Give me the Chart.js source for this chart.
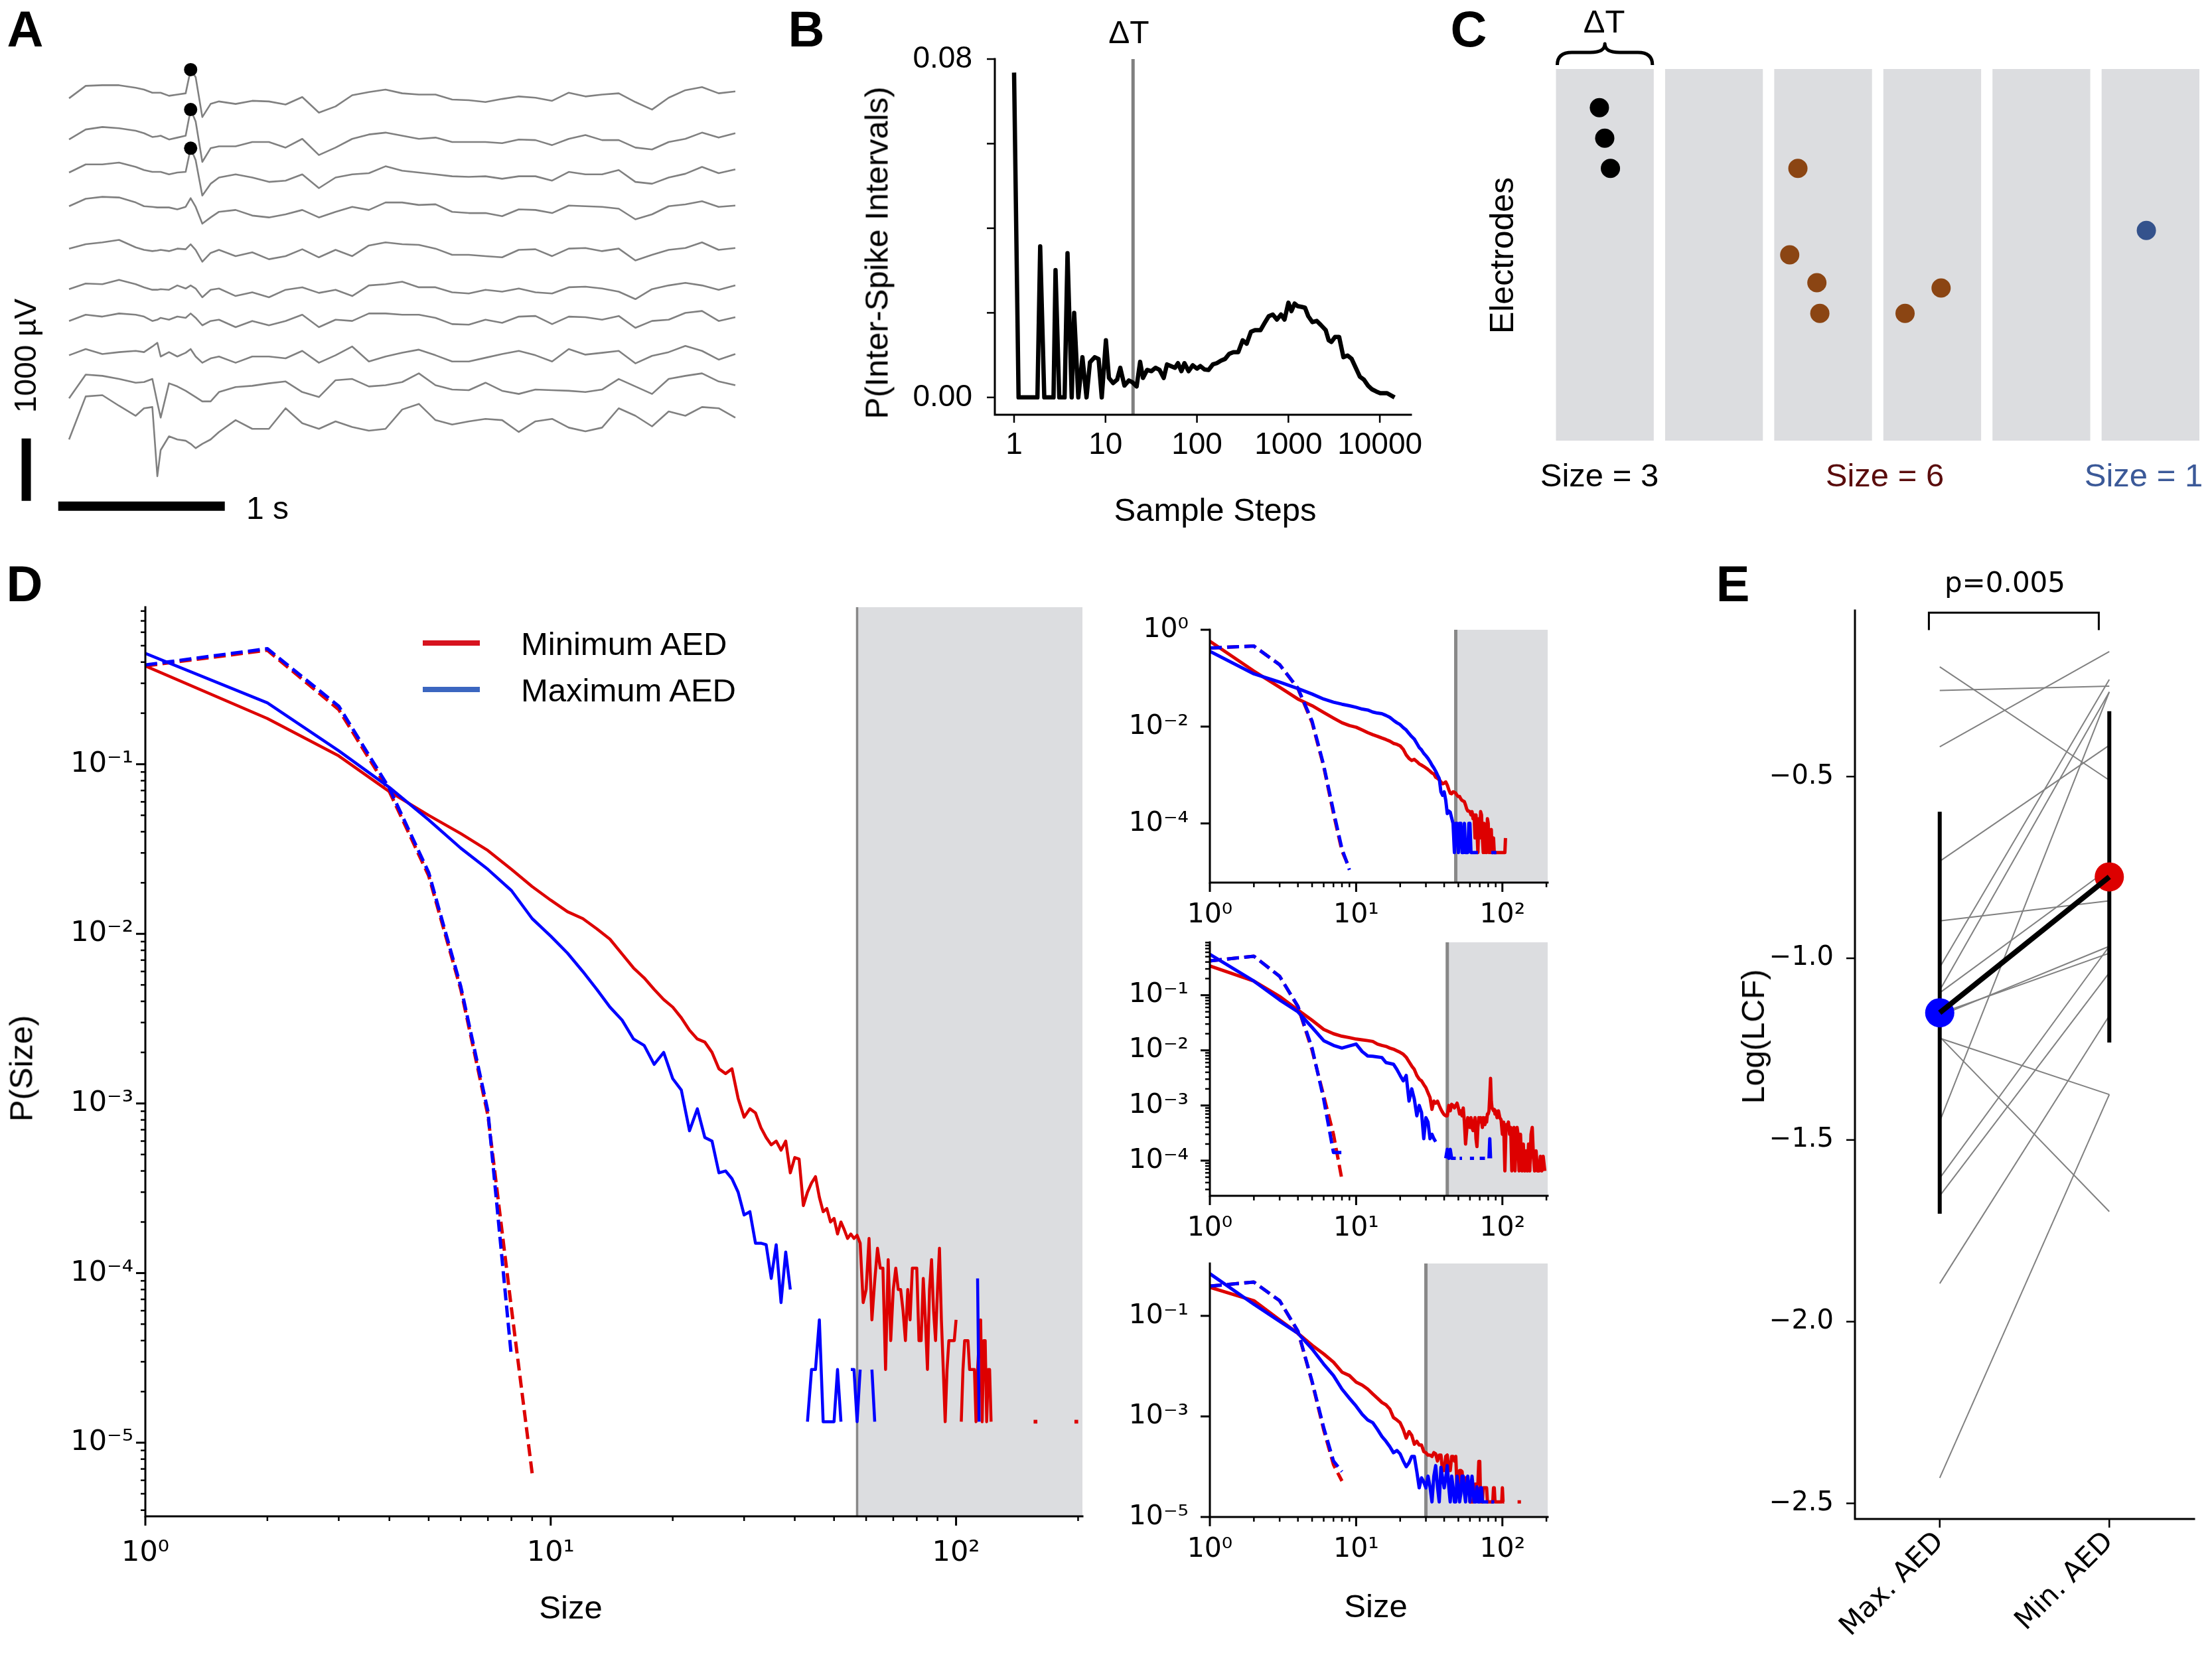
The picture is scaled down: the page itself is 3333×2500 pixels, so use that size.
<!DOCTYPE html>
<html>
<head>
<meta charset="utf-8">
<script src="https://cdn.jsdelivr.net/npm/chart.js@4.4.1/dist/chart.umd.min.js"></script>
<style>
html,body{margin:0;padding:0;background:#fff;}
#page{position:relative;width:3333px;height:2500px;overflow:hidden;background:#fff;}
canvas{position:absolute;}
.t{position:absolute;white-space:nowrap;line-height:1;font-family:"Liberation Sans",Arial,Helvetica,sans-serif;color:#000;}
</style>
</head>
<body>
<div id="page"></div>
<script>
// ======================= DATA =======================
// ---- Panel A : EEG traces (time in s, deviation in µV from each channel's offset)
const A_times = [0,0.1,0.2,0.3,0.4,0.45,0.5,0.53,0.55,0.6,0.65,0.7,0.73,0.76,0.8,0.85,0.9,1.0,1.1,1.2,1.3,1.4,1.5,1.6,1.7,1.8,1.9,2.0,2.1,2.2,2.3,2.4,2.5,2.6,2.7,2.8,2.9,3.0,3.1,3.2,3.3,3.4,3.5,3.6,3.7,3.8,3.9,4.0];
const A_offsets = [6670,6010,5480,4940,4260,3610,3100,2550,1860,1200];
const A_ch1 = [0,200,210,210,170,140,90,90,90,40,60,80,460,340,-300,-90,-50,-90,-40,-50,-100,20,-230,-130,50,100,140,80,60,60,-20,-30,-60,-10,30,10,-40,90,30,60,80,-60,-180,10,130,180,80,110];
const A_ch2 = [0,160,200,180,140,100,40,50,60,0,30,60,480,290,-360,-140,-110,-110,-40,-40,-130,10,-250,-130,10,80,110,60,10,30,-40,-40,-40,-60,0,-10,-90,10,70,-10,-10,-130,-160,-40,10,110,30,100];
const A_ch3 = [0,130,130,160,90,40,10,10,10,-30,0,10,390,200,-370,-180,-80,-30,-80,-150,-130,-30,-250,-80,-30,-10,100,30,0,-30,-60,-70,-60,-100,-60,-60,-130,10,-30,-30,40,-150,-180,-80,-20,90,-10,50];
const A_ch4 = [0,120,150,140,60,0,-10,-20,-20,-20,-50,-10,130,-10,-280,-180,-90,-60,-150,-180,-130,-60,-180,-90,-10,-60,60,60,20,30,-90,-110,-110,-160,-50,-60,-110,10,0,-10,-40,-210,-130,0,30,80,-10,10];
const A_ch5 = [0,70,100,140,20,-20,-40,-30,-20,-40,0,-10,70,-20,-210,-70,-20,-120,-60,-170,-120,-10,-140,-20,-120,50,100,70,60,0,-100,-100,-120,-140,-20,-10,-120,0,10,-40,0,-190,-100,-20,10,100,-20,10];
const A_ch6 = [0,90,80,150,80,30,-10,-10,0,-10,60,10,60,10,-130,-10,10,-110,-50,-130,-10,30,-60,-10,-110,60,80,120,30,30,-50,-70,-10,-40,10,-50,-70,30,40,10,-40,-160,0,60,100,60,-10,60];
const A_ch7 = [0,100,70,120,100,70,0,20,50,20,70,50,120,50,-70,0,20,-100,0,-70,0,100,-100,20,0,120,120,100,100,50,-50,-60,20,-30,70,80,-50,70,60,20,80,-110,0,20,130,160,0,60];
const A_ch8 = [0,100,20,50,70,50,140,200,-20,50,-20,40,100,-20,-120,-50,-20,-120,-20,-20,-50,70,-120,0,140,-100,-20,40,90,0,-100,-100,-40,20,70,0,-100,100,10,40,70,-130,-10,50,150,70,-70,20];
const A_ch9 = [0,380,360,310,250,260,310,-70,-310,240,190,120,70,20,-50,-50,100,180,200,240,270,100,20,290,310,190,210,260,400,210,140,130,250,120,70,140,130,120,100,140,310,190,70,310,360,400,270,210];
const A_ch10 = [0,690,710,540,380,500,520,-590,-170,50,0,-20,-70,-140,-70,0,120,310,170,170,500,260,170,290,200,140,170,480,570,310,240,290,330,310,120,290,330,190,130,190,500,380,210,450,380,520,500,350];
const A_spikeTime = 0.73;
const A_spikeChannels = [0,1,2];
const A_barSeconds = 1;
const A_barMicroV = 1000;

// ---- Panel B : inter-spike interval distribution
const B_steps = [1,1.12,1.8,1.93,2.14,2.7,2.84,3.12,3.57,3.84,4.27,4.54,5.04,5.59,6.2,6.76,7.6,8.4,9.1,10.1,10.9,12.1,13.4,14.5,16.1,18,19.6,21.9,23.9,25.7,28.5,31.7,35.2,39,43.3,47,52,57.5,62,67.6,73,81,90,100,109,121,134,149,165,183,203,225,250,283,316,350,389,431,495,550,610,675,750,830,907,1000,1080,1170,1260,1400,1520,1650,1830,2040,2270,2560,2760,2950,3240,3590,4000,4440,4920,5460,6050,6700,7430,8230,9130,10100,12000,14500];
const B_prob = [0.0768,0,0,0.0357,0,0,0.0301,0,0,0.0341,0,0.020,0,0.0095,0,0.0083,0.0095,0.0091,0,0.0135,0.0046,0.0034,0.0042,0.007,0.0028,0.004,0.0036,0.0026,0.0084,0.0046,0.0065,0.0062,0.007,0.0065,0.0046,0.0078,0.0074,0.007,0.0081,0.0062,0.0081,0.0062,0.0076,0.0068,0.0074,0.0066,0.0065,0.0078,0.0081,0.0087,0.0091,0.0103,0.0107,0.0107,0.0135,0.0127,0.0155,0.0159,0.0159,0.0176,0.0192,0.0196,0.0184,0.0196,0.0184,0.0224,0.0204,0.0222,0.0216,0.0214,0.0212,0.0192,0.0178,0.0181,0.0171,0.0159,0.0135,0.0131,0.0143,0.0143,0.0095,0.0099,0.0091,0.007,0.0049,0.0042,0.0028,0.0019,0.0014,0.001,0.001,0.0];
const B_deltaT = 20;
const B_xTicks = [1,10,100,1000,10000];
const B_yTicks = [0,0.02,0.04,0.06,0.08];
const B_yTickLabels = ['0.00','','','','0.08'];

// ---- Panel C : avalanche illustration (bin, electrode)
const C_nBins = 6;
const C_binFill = 0.896;
const C_black = [[0.398,1.25],[0.447,2.235],[0.499,3.21]];
const C_brown = [[2.217,3.21],[2.142,6.0],[2.391,6.9],[2.418,7.89],[3.199,7.89],[3.529,7.07]];
const C_blue = [[5.41,5.21]];
const C_sizes = [3,6,1];

// ---- Panel D : avalanche size distributions (value index = size-1)
const D_minSolid = [0.38,0.186,0.112,0.069,0.05,0.039,0.031,0.024,0.019,0.0158,
 0.0135,0.0123,0.0107,0.0093,0.0076,0.0063,0.0055,0.0047,0.0041,0.0037,
 0.0032,0.0027,0.0024,0.0023,0.002,0.0016,0.0015,0.0016,0.00107,0.00083,
 0.00093,0.00088,0.00072,0.00063,0.00057,0.0006,0.00053,0.0006,0.00039,0.00048,
 0.00047,0.00025,0.0003,0.00034,0.00037,0.00028,0.00023,0.00024,0.0002,0.00021,
 0.00017,0.0002,0.00018,0.00016,0.00017,0.00016,0.000167,0.00015,0.000067,0.00008,
 0.00016,0.000053,0.00009,0.00014,0.000107,0.000107,0.000027,0.00012,0.00004,0.00008,
 0.000107,0.00008,0.00008,0.00006,0.00004,0.00008,0.000053,0.000107,0.000107,0.000107,
 0.00004,0.00004,0.000093,0.000053,0.000027,0.00008,0.00012,0.00006,0.00004,0.00008,
 0.00014,0.000053,0.000027,0.0000133,0.000027,0.00004,0.00004,0.00004,0.00004,0.000053,
 null,null,0.0000133,0.000027,0.00004,0.00004,0.00004,0.000027,0.000027,0.000027,
 0.000027,0.0000133,0.000027,0.00004,0.000053,0.0000133,0.00004,0.00004,0.0000133,0.000027,
 0.000027,0.0000133];
const D_minSolidTail = [[140,null],[157,0.0000133],[175,null],[198,0.0000133]];
const D_maxSolid = [0.45,0.23,0.12,0.073,0.047,0.032,0.024,0.018,0.0123,0.0097,
 0.0077,0.006,0.0047,0.0037,0.0031,0.0024,0.0022,0.0017,0.002,0.0014,
 0.0012,0.00069,0.00093,0.00063,0.0006,0.00039,0.0004,0.00036,0.0003,0.00022,
 0.00023,0.00015,0.00015,0.000147,0.000093,0.000147,0.000067,0.000133,0.00008,null,
 null,null,0.0000133,0.000027,0.000027,0.000053,0.0000133,0.0000133,0.0000133,0.0000133,
 0.000027,0.0000133,null,null,0.000027,0.000027,0.0000133,0.000027,null,null,
 null,0.000027,0.0000133];
const D_maxSolidTail = [[90,null],[113,0.000093],[114,0.0000133]];
const D_minDashed = [0.38,0.47,0.21,0.069,0.022,0.0047,0.00085,0.000062,0.0000066];
const D_maxDashed = [0.385,0.48,0.22,0.072,0.023,0.0049,0.0009,0.000032];
const D_cutoff = 57;

// insets
const I1_minSolid = [0.58,0.14,0.065,0.037,0.027,0.0196,0.015,0.012,0.0105,0.0097,
 0.0085,0.0075,0.0068,0.0063,0.0058,0.0054,0.005,0.0045,0.0043,0.004,
 0.0034,0.0026,0.0022,0.002,0.0021,0.0019,0.0017,0.0016,0.0015,0.0014,
 0.0013,0.0012,0.0011,0.00105,0.0009,0.00085,0.0008,0.00072,0.00066,0.00068,
 0.00072,0.00062,0.0005,0.00042,0.00041,0.00045,0.00044,0.00042,0.00038,0.00036,
 0.00036,0.00032,0.0003,0.00029,0.00028,0.00024,0.0002,0.00018,0.00018,0.000175,
 0.00015,0.000175,0.000125,0.00015,0.00005,0.00015,0.000075,0.000025,0.000125,0.00005,
 0.000175,0.00015,0.00005,0.000025,0.0001,0.000025,0.00005,0.000025,0.000125,0.0001,
 0.000025,0.00005,0.000025,0.000075,0.000025,0.000025,0.00005,0.000025,0.000025,0.000025,
 0.000025,0.000025,0.000025,0.000025,0.000025,0.000025,0.000025,0.000025,0.000025,0.000025,
 0.000025,0.000025,0.000025,0.000025,0.00005];
const I1_maxSolid = [0.36,0.123,0.083,0.061,0.047,0.037,0.032,0.029,0.027,0.025,
 0.023,0.022,0.02,0.019,0.0185,0.017,0.0155,0.0135,0.012,0.011,
 0.0095,0.0085,0.0072,0.0062,0.0055,0.0045,0.0037,0.0033,0.0028,0.0025,
 0.0022,0.0019,0.0016,0.0014,0.0012,0.001,0.00085,0.00045,0.00038,0.00045,
 0.0003,0.00016,0.00018,0.00017,0.00013,0.0001,0.000025,0.0001,0.0001,0.000025,
 0.0001,0.0001,0.000025,0.000025,0.0001,0.000025,0.000025,0.000025,0.0001,0.0001,
 0.000025,0.000025,0.000025,0.000025,0.000025,0.000025,0.000025,0.000025,null,null,
 null,null,null,null,null,null,null,null,null,null,
 null,null,null,0.000025,0.000025,0.000025,0.000025,0.000025,0.000025,0.000025,0.000025];
const I1_minDashed = [0.42,0.46,0.19,0.061,0.012,0.0015,0.00016,0.000027,0.000012];
const I1_maxDashed = [0.42,0.46,0.19,0.062,0.013,0.0016,0.00018,0.00003,0.000011];

const I2_minSolid = [0.34,0.18,0.095,0.054,0.035,0.024,0.02,0.018,0.017,0.016,
 0.0155,0.015,0.0145,0.013,0.0123,0.0118,0.011,0.0105,0.0098,0.0092,
 0.0085,0.0075,0.0062,0.0052,0.0045,0.0035,0.003,0.0028,0.0024,0.0021,
 0.0017,0.0014,0.00085,0.0012,0.0011,0.0012,0.001,0.00085,0.00075,0.00068,
 0.00065,0.00065,0.001,0.0008,0.00105,0.001,0.0009,0.001,0.0011,0.0009,
 0.0007,0.0008,0.00065,0.0009,0.0005,0.0002,0.00035,0.0006,0.00055,0.0004,
 0.0006,0.0004,0.00035,0.0005,0.0006,0.00025,0.00018,0.0004,0.0006,0.0005,
 0.0006,0.00055,0.0004,0.0006,0.0005,0.00045,0.0006,0.0005,0.0007,0.0007,
 0.0008,0.0015,0.0031,0.0012,0.0009,0.00085,0.0008,0.00085,0.0007,0.0008];
const I2_minSolidTail = [[92,0.0006],[94,0.0008],[96,0.0006],[98,0.00055],[100,0.0003],[102,0.0005],[104,0.000065],[106,0.00045],[108,0.0004],[110,0.0005],[112,0.0003],[114,0.0004],[116,0.000065],[118,0.0003],[120,0.0004],[122,0.000065],[124,0.0002],[126,0.0004],[128,0.0003],[130,0.000065],[133,0.0003],[136,0.000065],[139,0.0002],[142,0.000065],[145,0.00015],[148,0.000065],[151,0.0002],[154,0.000065],[157,0.0003],[160,0.0004],[163,0.00012],[166,0.000065],[170,0.00015],[174,0.000065],[178,0.000065],[182,0.00012],[186,0.000065],[190,0.00012],[195,0.000065]];
const I2_maxSolid = [0.55,0.18,0.082,0.05,0.026,0.015,0.0123,0.011,0.012,0.013,
 0.0095,0.0079,0.0078,0.0076,0.0074,0.006,0.0058,0.0056,0.0045,0.0035,
 0.0028,0.0035,0.0012,0.002,0.0013,0.00065,0.001,0.00075,0.00025,0.0006,
 0.0005,0.00025,0.0003,0.00025,0.00022,null,null,null,null,null,
 0.00011,0.00016,0.00011,0.00016,0.00011,0.00011,0.00011,0.00011];
const I2_maxSolidTail = [[49,null],[51,0.00011],[53,0.00011],[54,null],[60,0.00011],[64,0.00011],[65,null],[70,0.00011],[76,0.00011],[77,null],[81,0.00011],[82,0.00025],[83,0.00011]];
const I2_minDashed = [0.42,0.51,0.22,0.062,0.01,0.0015,0.0003,0.000045];
const I2_maxDashed = [0.42,0.51,0.22,0.063,0.011,0.0013,0.00014,0.00014];

const I3_minSolid = [0.37,0.2,0.083,0.045,0.026,0.0175,0.012,0.0076,0.0065,0.0048,
 0.0042,0.0035,0.0028,0.0023,0.0019,0.0017,0.0014,0.00095,0.00085,0.00075,
 0.00055,0.00037,0.0005,0.00042,0.00028,0.00032,0.00027,0.00027,0.0002,0.00019,
 0.00017,0.00017,0.00016,0.00019,0.00018,0.00013,0.00017,0.00017,0.000084,0.000084,
 0.00016,0.00017,0.000084,0.000084,0.00016,0.00016,0.00013,0.00016,0.000038,0.000038,
 0.000084,0.000084,0.00008,0.000038,0.000038,0.00006,0.00006,0.000045,0.000045,0.00002,
 0.00002,0.00002,0.00002,0.000038,0.000045,0.000045,0.000045,0.000045,0.000127,0.000127,
 0.00002,0.00002,0.00002,0.000038,0.000038,0.000038,0.000038,0.000038,0.00002,0.00002,
 0.00002,0.00002,0.00002,0.00002,0.00002,0.00002,0.000038,0.000038,0.00002,0.00002,
 0.00002,0.00002,0.00002,0.00002,0.00002,0.00002,0.00002,0.00002,0.00002,0.000038,
 0.00002,0.00002,0.00002];
const I3_minSolidTail = [[110,null],[127,0.00002],[134,0.00002]];
const I3_maxSolid = [0.69,0.17,0.078,0.045,0.022,0.011,0.0065,0.0035,0.0023,0.0016,
 0.0011,0.00085,0.00075,0.00055,0.0004,0.00032,0.00025,0.00019,0.00021,0.00018,
 0.00013,0.0001,0.00012,0.00016,0.00016,0.00008,0.000038,0.00006,0.00005,0.000038,
 0.000065,0.00004,0.00002,0.000065,0.000105,0.00004,0.00002,0.000097,0.00006,0.000038,
 0.00006,0.000105,0.00004,0.00002,0.000065,0.00004,0.00002,0.00002,0.000065,0.00004,
 0.00002,0.00003,0.000065,0.000065,0.00003,0.00002,0.00004,0.000065,0.00004,0.00002,
 0.00004,0.000065,0.00004,0.00002,0.00002,0.00002,0.00004,0.00002,0.00002,0.00002,
 0.000038,0.000038,0.00002,0.00002,0.00002,0.00002,0.00002,0.00002,0.00002,0.00002];
const I3_maxSolidTail = [[81,null],[84,0.00002],[88,0.00002]];
const I3_minDashed = [0.39,0.47,0.2,0.049,0.0048,0.00054,0.00011,0.000052];
const I3_maxDashed = [0.39,0.47,0.2,0.05,0.005,0.0006,0.00013,0.00008];
const I_cutoffs = [48,42,30];

// ---- Panel E : log(LCF) per patient
const E_cats = ['Max. AED','Min. AED'];
const E_max = [-0.198,-0.263,-0.418,-0.733,-0.897,-1.025,-1.088,-1.095,-1.152,-1.158,-1.216,-1.22,-1.449,-1.605,-1.654,-1.895,-2.43];
const E_min = [-0.51,-0.251,-0.156,-0.414,-0.842,-0.233,-0.267,-0.753,-0.986,-0.967,-1.697,-1.375,-0.267,-0.967,-1.04,-1.158,-1.375];
const E_mean = [-1.15,-0.776];
const E_sd = [0.553,0.456];
const E_yTicks = [-2.5,-2,-1.5,-1,-0.5];
const E_pText = 'p=0.005';

// ======================= RENDERING =======================
const page = document.getElementById('page');
const SANS = '"Liberation Sans", Arial, Helvetica, sans-serif';
const DJV = '"DejaVu Sans", Verdana, sans-serif';
const RED = '#dd0000', BLUE = '#0000ff', GRAYLINE = '#888888', SHADE = '#dcdde0';
Chart.defaults.font.family = SANS;
Chart.defaults.color = '#000';
Chart.defaults.animation = false;
Chart.defaults.plugins.legend.display = false;
Chart.defaults.plugins.tooltip.enabled = false;

const SUP = {'0':'\u2070','1':'\u00b9','2':'\u00b2','3':'\u00b3','4':'\u2074','5':'\u2075','6':'\u2076','7':'\u2077','8':'\u2078','9':'\u2079','-':'\u207b'};
function p10(v){ const e = Math.round(Math.log10(v)); return '10' + String(e).split('').map(c => SUP[c]).join(''); }
const MINOR = [2,3,4,5,6,7,8,9];
function decades(min, max, mults){
  const out = [];
  for (let k = Math.floor(Math.log10(min)) - 1; k <= Math.ceil(Math.log10(max)) + 1; k++)
    for (const m of mults){ const v = m * Math.pow(10, k); if (v >= min * 0.999999 && v <= max * 1.000001) out.push(v); }
  return out;
}

function text(str, x, y, o = {}){
  const d = document.createElement('div');
  d.className = 't'; d.textContent = str;
  d.style.left = x + 'px'; d.style.top = y + 'px';
  d.style.fontSize = (o.size || 48) + 'px';
  if (o.bold) d.style.fontWeight = 'bold';
  if (o.color) d.style.color = o.color;
  if (o.family) d.style.fontFamily = o.family;
  d.style.transform = o.rot ? 'translate(-50%,-50%) rotate(-90deg)' : (o.left ? 'translate(0,-50%)' : 'translate(-50%,-50%)');
  page.appendChild(d);
}
function hline(x0, x1, y, color, w){
  const d = document.createElement('div');
  d.style.cssText = 'position:absolute;left:' + x0 + 'px;top:' + (y - w/2) + 'px;width:' + (x1 - x0) + 'px;height:' + w + 'px;background:' + color;
  page.appendChild(d);
}

function axesPlugin(ax){
  return { id: 'mplAxes', afterDatasetsDraw(chart){
    const ctx = chart.ctx, ca = chart.chartArea, sx = chart.scales.x, sy = chart.scales.y;
    ctx.save(); ctx.strokeStyle = '#000'; ctx.lineCap = 'butt';
    const drawSet = (vals, len, w, isX) => {
      ctx.lineWidth = w;
      for (const v of vals){
        const p = (isX ? sx : sy).getPixelForValue(v);
        ctx.beginPath();
        if (isX){ ctx.moveTo(p, ca.bottom); ctx.lineTo(p, ca.bottom + len); }
        else { ctx.moveTo(ca.left, p); ctx.lineTo(ca.left - len, p); }
        ctx.stroke();
      }
    };
    if (ax.x){ drawSet(ax.x.major, ax.len, ax.tw, true); if (ax.x.minor) drawSet(ax.x.minor, ax.mlen, ax.mtw, true); }
    if (ax.y){ drawSet(ax.y.major, ax.len, ax.tw, false); if (ax.y.minor) drawSet(ax.y.minor, ax.mlen, ax.mtw, false); }
    ctx.lineWidth = ax.sw; ctx.lineCap = 'square'; ctx.lineJoin = 'miter';
    ctx.beginPath(); ctx.moveTo(ca.left, ca.top); ctx.lineTo(ca.left, ca.bottom); ctx.lineTo(ca.right, ca.bottom); ctx.stroke();
    ctx.restore();
  }};
}

function scaleOpts(type, min, max, ticks, labelFn, font, padding){
  return { type, min, max, bounds: 'data', display: true,
    grid: { display: false, drawTicks: false }, border: { display: false },
    ticks: { autoSkip: false, maxRotation: 0, minRotation: 0, padding, font, color: '#000', callback: (v) => labelFn(v) },
    afterBuildTicks: s => { s.ticks = ticks.map(v => ({ value: v })); } };
}

function makeChart(box, area, yW, xH, cfg, ax){
  const c = document.createElement('canvas');
  c.width = box.w; c.height = box.h;
  c.style.left = box.x + 'px'; c.style.top = box.y + 'px';
  c.style.width = box.w + 'px'; c.style.height = box.h + 'px';
  page.appendChild(c);
  cfg.options = cfg.options || {};
  Object.assign(cfg.options, { responsive: false, maintainAspectRatio: false, devicePixelRatio: 1, animation: false, events: [] });
  cfg.options.layout = { padding: { left: area.l - box.x - yW, top: area.t - box.y, right: box.x + box.w - area.r, bottom: box.y + box.h - area.b - xH } };
  const sc = cfg.options.scales;
  sc.x.afterFit = s => { s.height = xH; s.paddingLeft = 0; s.paddingRight = 0; };
  sc.y.afterFit = s => { s.width = yW; s.paddingTop = 0; s.paddingBottom = 0; };
  cfg.plugins = (cfg.plugins || []).concat(ax ? [axesPlugin(ax)] : []);
  return new Chart(c.getContext('2d'), cfg);
}

const isoRadius = ctx => {
  const d = ctx.dataset.data, i = ctx.dataIndex;
  if (i === undefined || !d[i] || d[i].y == null) return 0;
  const p = d[i-1], n = d[i+1];
  return ((!p || p.y == null) && (!n || n.y == null)) ? 4 : 0;
};
function series(vals, tail){
  const d = vals.map((v, i) => ({ x: i + 1, y: v }));
  (tail || []).forEach(([x, y]) => d.push({ x, y }));
  return d;
}
function lineDS(data, color, width, dash){
  return { data, borderColor: color, backgroundColor: color, borderWidth: width, borderDash: dash || [],
    pointRadius: isoRadius, pointStyle: 'rect', pointBorderWidth: 0, pointBackgroundColor: color,
    spanGaps: false, tension: 0, fill: false, borderJoinStyle: 'round', borderCapStyle: 'butt' };
}
function cutoffPlugin(cut, lw){
  return { id: 'cutoff', beforeDatasetsDraw(chart){
    const ctx = chart.ctx, ca = chart.chartArea, x = chart.scales.x.getPixelForValue(cut);
    ctx.save(); ctx.fillStyle = SHADE; ctx.fillRect(x, ca.top, ca.right - x, ca.bottom - ca.top);
    ctx.strokeStyle = GRAYLINE; ctx.lineWidth = lw; ctx.beginPath(); ctx.moveTo(x, ca.top); ctx.lineTo(x, ca.bottom); ctx.stroke();
    ctx.restore();
  }};
}

// ---------------- Panel A ----------------
const A_chans = [A_ch1,A_ch2,A_ch3,A_ch4,A_ch5,A_ch6,A_ch7,A_ch8,A_ch9,A_ch10];
const A_bar = { t: -0.257, v: 215, th: -0.065, vh: 130 };
makeChart({x:0,y:80,w:1130,h:710}, {l:25,t:85,r:1115,b:775}, 0, 0, {
  type: 'line',
  data: { datasets: A_chans.map((ch, i) => ({
    data: A_times.map((t, j) => ({ x: t, y: A_offsets[i] + ch[j] })),
    borderColor: '#808080', borderWidth: 2.6, tension: 0, borderJoinStyle: 'round',
    pointRadius: ctx => (A_spikeChannels.includes(ctx.datasetIndex) && A_times[ctx.dataIndex] === A_spikeTime) ? 10 : 0,
    pointBackgroundColor: '#000', pointBorderWidth: 0 })) },
  options: { scales: { x: { type: 'linear', display: false, min: -0.315, max: 4.028 }, y: { type: 'linear', display: false, min: 0, max: 7342 } } },
  plugins: [{ id: 'scalebars', afterDatasetsDraw(chart){
    const ctx = chart.ctx, sx = chart.scales.x, sy = chart.scales.y;
    ctx.save(); ctx.strokeStyle = '#000'; ctx.lineCap = 'butt';
    ctx.lineWidth = 14; const xv = sx.getPixelForValue(A_bar.t);
    ctx.beginPath(); ctx.moveTo(xv, sy.getPixelForValue(A_bar.v)); ctx.lineTo(xv, sy.getPixelForValue(A_bar.v + A_barMicroV)); ctx.stroke();
    ctx.lineWidth = 14; const yh = sy.getPixelForValue(A_bar.vh);
    ctx.beginPath(); ctx.moveTo(sx.getPixelForValue(A_bar.th), yh); ctx.lineTo(sx.getPixelForValue(A_bar.th + A_barSeconds), yh); ctx.stroke();
    ctx.restore();
  }}]
}, null);

// ---------------- Panel B ----------------
const B_yMin = -0.0041, B_yMax = 0.08;
makeChart({x:1340,y:60,w:820,h:740}, {l:1499,t:89,r:2126,b:625}, 139, 80, {
  type: 'line',
  data: { datasets: [
    { data: B_steps.map((s, i) => ({ x: s, y: B_prob[i] })), borderColor: '#000', borderWidth: 6.5, pointRadius: 0, tension: 0, borderJoinStyle: 'round' },
    { data: [{ x: B_deltaT, y: B_yMin }, { x: B_deltaT, y: B_yMax }], borderColor: '#808080', borderWidth: 5, pointRadius: 0 }
  ]},
  options: { scales: {
    x: scaleOpts('logarithmic', 0.616, 21900, B_xTicks, v => String(v), { family: SANS, size: 46 }, 19),
    y: scaleOpts('linear', B_yMin, B_yMax, B_yTicks, v => { const k = B_yTicks.indexOf(v); return k >= 0 ? B_yTickLabels[k] : ''; }, { family: SANS, size: 46 }, 34)
  }}
}, { x: { major: B_xTicks }, y: { major: B_yTicks }, len: 12, tw: 2.5, sw: 3 });

// ---------------- Panel C ----------------
makeChart({x:2330,y:30,w:1003,h:665}, {l:2340,t:104,r:3314,b:664}, 0, 0, {
  type: 'scatter',
  data: { datasets: [
    { data: C_black.map(([x, y]) => ({ x, y })), pointRadius: 14.5, pointBackgroundColor: '#000', pointBorderWidth: 0 },
    { data: C_brown.map(([x, y]) => ({ x, y })), pointRadius: 14.5, pointBackgroundColor: '#8b4513', pointBorderWidth: 0 },
    { data: C_blue.map(([x, y]) => ({ x, y })), pointRadius: 14.5, pointBackgroundColor: '#34528c', pointBorderWidth: 0 }
  ]},
  options: { scales: { x: { type: 'linear', display: false, min: 0, max: C_nBins - 1 + C_binFill }, y: { type: 'linear', display: false, min: 0, max: 12, reverse: true } } },
  plugins: [{ id: 'bins',
    beforeDatasetsDraw(chart){
      const ctx = chart.ctx, ca = chart.chartArea, sx = chart.scales.x;
      ctx.save(); ctx.fillStyle = SHADE;
      for (let i = 0; i < C_nBins; i++){ const x0 = sx.getPixelForValue(i), x1 = sx.getPixelForValue(i + C_binFill); ctx.fillRect(x0, ca.top, x1 - x0, ca.bottom - ca.top); }
      ctx.restore();
    },
    afterDraw(chart){
      const ctx = chart.ctx, ca = chart.chartArea, sx = chart.scales.x;
      const x0 = sx.getPixelForValue(0) + 2, x1 = sx.getPixelForValue(C_binFill) - 2, xm = (x0 + x1) / 2;
      const yb = ca.top - 6, ym = ca.top - 25, yt = ca.top - 38, r = 22;
      ctx.save(); ctx.strokeStyle = '#000'; ctx.lineWidth = 5; ctx.lineJoin = 'round';
      ctx.beginPath(); ctx.moveTo(x0, yb); ctx.quadraticCurveTo(x0, ym, x0 + r, ym); ctx.lineTo(xm - r, ym);
      ctx.quadraticCurveTo(xm, ym, xm, yt); ctx.quadraticCurveTo(xm, ym, xm + r, ym); ctx.lineTo(x1 - r, ym);
      ctx.quadraticCurveTo(x1, ym, x1, yb); ctx.stroke(); ctx.restore();
    }
  }]
}, null);

// ---------------- Panel D (main) ----------------
const D_xMin = 1, D_xMax = 205, D_yMin = 3.68e-6, D_yMax = 0.843;
const D_yMajor = [1e-5,1e-4,1e-3,1e-2,1e-1];
makeChart({x:0,y:840,w:1660,h:1600}, {l:219,t:915,r:1631,b:2285}, 200, 100, {
  type: 'line',
  data: { datasets: [
    lineDS(series(D_maxDashed), BLUE, 5, [18, 8]),
    lineDS(series(D_maxSolid, D_maxSolidTail), BLUE, 4.5),
    lineDS(series(D_minDashed), RED, 5, [18, 8]),
    lineDS(series(D_minSolid, D_minSolidTail), RED, 4.5)
  ]},
  options: { scales: {
    x: scaleOpts('logarithmic', D_xMin, D_xMax, [1,10,100], p10, { family: DJV, size: 43 }, 30),
    y: scaleOpts('logarithmic', D_yMin, D_yMax, D_yMajor, p10, { family: DJV, size: 43 }, 18)
  }},
  plugins: [cutoffPlugin(D_cutoff, 3.5)]
}, { x: { major: [1,10,100], minor: decades(D_xMin, D_xMax, MINOR) }, y: { major: D_yMajor, minor: decades(D_yMin, D_yMax, MINOR) }, len: 14, mlen: 7, tw: 3, mtw: 2.5, sw: 3 });

// ---------------- Panel D (insets) ----------------
const I_xMax = 204;
function inset(area, box, yMin, yMax, yMajor, yMinor, minS, maxS, minD, maxD, cut){
  makeChart(box, area, 120, 70, {
    type: 'line',
    data: { datasets: [
      lineDS(series(maxD), BLUE, 5, [18, 8]),
      lineDS(series(minD), RED, 5, [18, 8]),
      lineDS(maxS, BLUE, 5),
      lineDS(minS, RED, 5)
    ]},
    options: { scales: {
      x: scaleOpts('logarithmic', 1, I_xMax, [1,10,100], p10, { family: DJV, size: 41 }, 25),
      y: scaleOpts('logarithmic', yMin, yMax, yMajor, p10, { family: DJV, size: 41 }, 32)
    }},
    plugins: [cutoffPlugin(cut, 5)]
  }, { x: { major: [1,10,100], minor: decades(1, I_xMax, MINOR) }, y: { major: yMajor, minor: yMinor }, len: 14, mlen: 7, tw: 3, mtw: 2.5, sw: 3 });
}
inset({l:1823,t:949,r:2332,b:1330}, {x:1690,y:905,w:670,h:500}, 6e-6, 1, [1e-4,1e-2,1],
  [], series(I1_minSolid), series(I1_maxSolid), I1_minDashed, I1_maxDashed, I_cutoffs[0]);
inset({l:1823,t:1420,r:2332,b:1802}, {x:1690,y:1390,w:670,h:485}, 2.3e-5, 0.91, [1e-4,1e-3,1e-2,1e-1],
  decades(2.3e-5, 0.91, MINOR), series(I2_minSolid, I2_minSolidTail), series(I2_maxSolid, I2_maxSolidTail), I2_minDashed, I2_maxDashed, I_cutoffs[1]);
inset({l:1823,t:1904,r:2332,b:2286}, {x:1690,y:1875,w:670,h:485}, 1e-5, 1.1, [1e-5,1e-3,1e-1],
  [], series(I3_minSolid, I3_minSolidTail), series(I3_maxSolid, I3_maxSolidTail), I3_minDashed, I3_maxDashed, I_cutoffs[2]);

// ---------------- Panel E ----------------
const E_bracket = { x0: -0.064, x1: 0.938, yTop: -0.049, yEnd: -0.097 };
const eDatasets = [];
eDatasets.push({ data: [{ x: 0, y: E_mean[0] }, { x: 1, y: E_mean[1] }], borderColor: '#000', borderWidth: 8, pointRadius: 0 });
eDatasets.push({ data: [{ x: 0, y: E_mean[0] }, { x: 1, y: E_mean[1] }], showLine: false, pointRadius: 22, pointBackgroundColor: [BLUE, RED], pointBorderWidth: 0 });
for (let k = 0; k < 2; k++) eDatasets.push({ data: [{ x: k, y: E_mean[k] - E_sd[k] }, { x: k, y: E_mean[k] + E_sd[k] }], borderColor: '#000', borderWidth: 6, pointRadius: 0 });
E_max.forEach((v, i) => eDatasets.push({ data: [{ x: 0, y: v }, { x: 1, y: E_min[i] }], borderColor: '#808080', borderWidth: 2, pointRadius: 0 }));
const eX = scaleOpts('linear', -0.5, 1.5, [0, 1], v => E_cats[v], { family: DJV, size: 42 }, 10);
eX.ticks.minRotation = 45; eX.ticks.maxRotation = 45;
makeChart({x:2600,y:840,w:733,h:1660}, {l:2795,t:920,r:3306,b:2289}, 195, 200, {
  type: 'line',
  data: { datasets: eDatasets },
  options: { scales: {
    x: eX,
    y: scaleOpts('linear', -2.543, -0.043, E_yTicks, v => '\u2212' + Math.abs(v).toFixed(1), { family: DJV, size: 40 }, 32)
  }},
  plugins: [{ id: 'bracket', afterDraw(chart){
    const ctx = chart.ctx, sx = chart.scales.x, sy = chart.scales.y;
    const x0 = sx.getPixelForValue(E_bracket.x0), x1 = sx.getPixelForValue(E_bracket.x1);
    const yt = sy.getPixelForValue(E_bracket.yTop), yb = sy.getPixelForValue(E_bracket.yEnd);
    ctx.save(); ctx.strokeStyle = '#000'; ctx.lineWidth = 3; ctx.lineJoin = 'miter';
    ctx.beginPath(); ctx.moveTo(x0, yb); ctx.lineTo(x0, yt); ctx.lineTo(x1, yt); ctx.lineTo(x1, yb); ctx.stroke(); ctx.restore();
  }}]
}, { x: { major: [0, 1] }, y: { major: E_yTicks }, len: 13, tw: 2.5, sw: 3 });

// ======================= TEXT =======================
text('A', 38, 44, { size: 76, bold: true });
text('B', 1215, 44, { size: 76, bold: true });
text('C', 2213, 44, { size: 76, bold: true });
text('D', 37, 880, { size: 76, bold: true });
text('E', 2611, 880, { size: 76, bold: true });

text('1 s', 403, 766, { size: 48 });
text('1000 \u00b5V', 38, 536, { size: 46, rot: true });

text('\u0394T', 1701, 49, { size: 48 });
text('Sample Steps', 1831, 768, { size: 49 });
text('P(Inter-Spike Intervals)', 1321, 381, { size: 49, rot: true });

text('\u0394T', 2417, 32, { size: 49 });
text('Electrodes', 2263, 385, { size: 50, rot: true });
text('Size = ' + C_sizes[0], 2410, 716, { size: 49 });
text('Size = ' + C_sizes[1], 2840, 716, { size: 49, color: '#5a0c0c' });
text('Size = ' + C_sizes[2], 3230, 716, { size: 49, color: '#3b5998' });

text('P(Size)', 32, 1610, { size: 49, rot: true });
text('Size', 860, 2422, { size: 49 });
text('Size', 2073, 2420, { size: 49 });
hline(637, 723, 969, '#d7131f', 8);
hline(637, 723, 1039, '#3b66c0', 8);
text('Minimum AED', 785, 970, { size: 49, left: true });
text('Maximum AED', 785, 1040, { size: 49, left: true });

text('Log(LCF)', 2642, 1562, { size: 48, rot: true });
text(E_pText, 3021, 878, { size: 42, family: DJV });
</script>
</body>
</html>
